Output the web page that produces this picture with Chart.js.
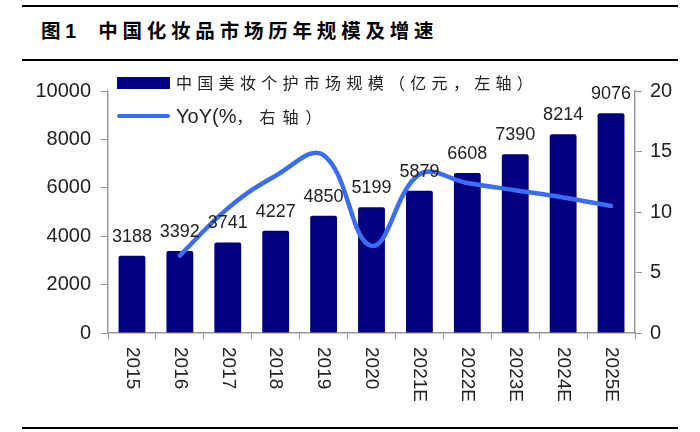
<!DOCTYPE html>
<html lang="zh">
<head>
  <meta charset="UTF-8">
  <title>中国化妆品市场历年规模及增速</title>
  <script src="https://cdn.jsdelivr.net/npm/chart.js@4.4.1/dist/chart.umd.min.js"></script>
  <style>
    body { margin: 0; background: #fff; }
    #wrap { position: relative; width: 700px; height: 432px; overflow: hidden; }
    #chart-container { position: absolute; left: 0; top: 0; width: 700px; height: 432px; }
    .rule { position: absolute; left: 22px; width: 656px; height: 2px; background: #000; }
    #title { position: absolute; left: 41px; top: 16px; font: bold 19.5px "Noto Sans CJK SC", sans-serif;
             letter-spacing: 4.8px; color: #000; white-space: nowrap; line-height: 28px; }
    #title .num { font-family: Arial, "Liberation Sans", sans-serif; letter-spacing: 0; margin-right: 22px; }
    .lg { position: absolute; left: 117px; white-space: nowrap; color: #222; }
    .lg .sw { position: absolute; left: 0; width: 53px; }
    .lg .tx { position: absolute; left: 59px; line-height: 24px; }
  </style>
</head>
<body>
<div id="wrap">
  <div class="rule" style="top:5px"></div>
  <div id="title">图<span class="num">1</span>中国化妆品市场历年规模及增速</div>
  <div class="rule" style="top:59px"></div>
  <div id="chart-container"><canvas id="chart-canvas"></canvas></div>
  <div class="lg" style="top:70px">
    <div class="sw" style="top:7px;height:12px;background:#000080"></div>
    <div class="tx" style="top:0;font:16px 'Noto Sans CJK SC',sans-serif;letter-spacing:5.3px">中国美妆个护市场规模（亿元，左轴）</div>
  </div>
  <div class="lg" style="top:104px">
    <div class="sw" style="top:10px;height:4px;border-radius:2px;background:#3b6cf6"></div>
    <div class="tx" style="top:0"><span style="font:20px Arial,'Liberation Sans',sans-serif">YoY(%</span><span style="font:16px 'Noto Sans CJK SC',sans-serif;letter-spacing:7px">，右轴）</span></div>
  </div>
  <div class="rule" style="top:427px"></div>
</div>
<script>
  const years = ['2015', '2016', '2017', '2018', '2019', '2020', '2021E', '2022E', '2023E', '2024E', '2025E'];
  const marketSize = [3188, 3392, 3741, 4227, 4850, 5199, 5879, 6608, 7390, 8214, 9076];
  const yoy = [null, 6.4, 10.3, 13.0, 14.7, 7.2, 13.1, 12.4, 11.8, 11.2, 10.5];
  const leftTicks = [0, 2000, 4000, 6000, 8000, 10000];
  const rightTicks = [0, 5, 10, 15, 20];

  const numFont = 'Arial, "Liberation Sans", sans-serif';

  // value labels above the bars
  const barLabels = {
    id: 'barLabels',
    afterDatasetsDraw(chart) {
      const ctx = chart.ctx;
      const meta = chart.getDatasetMeta(0);
      ctx.save();
      ctx.font = '18px ' + numFont;
      ctx.fillStyle = '#222';
      ctx.textAlign = 'center';
      ctx.textBaseline = 'alphabetic';
      meta.data.forEach((bar, i) => {
        ctx.fillText(String(marketSize[i]), bar.x, bar.y - 14);
      });
      ctx.restore();
    }
  };

  // category labels rotated clockwise
  const xLabels = {
    id: 'xLabels',
    afterDraw(chart) {
      const ctx = chart.ctx;
      const xs = chart.scales.x;
      ctx.save();
      ctx.font = '19px ' + numFont;
      ctx.fillStyle = '#222';
      ctx.textAlign = 'left';
      ctx.textBaseline = 'middle';
      years.forEach((y, i) => {
        ctx.save();
        ctx.translate(xs.getPixelForTick(i), chart.chartArea.bottom + 14);
        ctx.rotate(Math.PI / 2);
        ctx.fillText(y, 0, 0);
        ctx.restore();
      });
      ctx.restore();
    }
  };

  const ctx = document.getElementById('chart-canvas').getContext('2d');
  new Chart(ctx, {
    data: {
      labels: years,
      datasets: [{
        type: 'bar',
        label: '中国美妆个护市场规模（亿元，左轴）',
        data: marketSize,
        yAxisID: 'y',
        backgroundColor: '#000080',
        borderRadius: 2,
        barPercentage: 0.56,
        categoryPercentage: 1,
        order: 1
      }, {
        type: 'line',
        label: 'YoY(%，右轴）',
        data: yoy,
        yAxisID: 'y1',
        borderColor: '#3b6cf6',
        borderWidth: 4.5,
        borderCapStyle: 'round',
        pointRadius: 0,
        tension: 0.4,
        order: 0
      }]
    },
    options: {
      responsive: true,
      maintainAspectRatio: false,
      animation: false,
      layout: { padding: { top: 91, left: 0, right: 0, bottom: 0 } },
      plugins: { legend: { display: false }, tooltip: { enabled: false } },
      scales: {
        x: {
          ticks: { display: false },
          grid: { drawOnChartArea: false, drawTicks: true, tickLength: 6, color: '#999', offset: true },
          border: { color: '#999', width: 1.5 },
          afterFit(s) { s.height = 99; }
        },
        y: {
          position: 'left',
          min: 0, max: 10000,
          afterBuildTicks(s) { s.ticks = leftTicks.map(v => ({ value: v })); },
          ticks: { font: { family: numFont, size: 20 }, color: '#222', padding: 10, callback: v => String(v) },
          grid: { drawOnChartArea: false, tickLength: 7, color: '#999' },
          border: { color: '#999', width: 1.5 },
          afterFit(s) { s.width = 108; }
        },
        y1: {
          position: 'right',
          min: 0, max: 20,
          afterBuildTicks(s) { s.ticks = rightTicks.map(v => ({ value: v })); },
          ticks: { font: { family: numFont, size: 20 }, color: '#222', padding: 8, callback: v => String(v) },
          grid: { drawOnChartArea: false, tickLength: 7, color: '#999' },
          border: { color: '#999', width: 1.5 },
          afterFit(s) { s.width = 65; }
        }
      }
    },
    plugins: [barLabels, xLabels]
  });
</script>
</body>
</html>
